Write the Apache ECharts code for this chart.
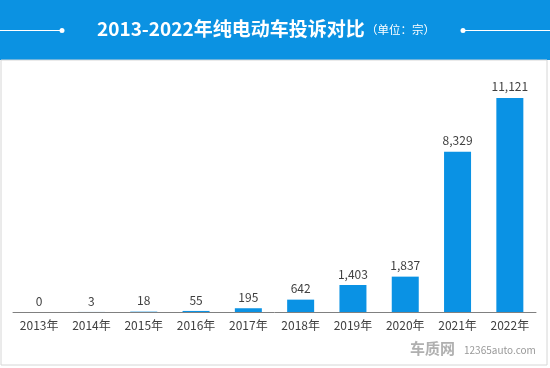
<!DOCTYPE html>
<html><head><meta charset="utf-8">
<script src="https://cdn.jsdelivr.net/npm/echarts@6/dist/echarts.min.js"></script>
<style>html,body{margin:0;padding:0;background:#fff}#c{width:550px;height:368px}</style>
</head><body><div id="c"></div>
<script>
const categories = ['2013年','2014年','2015年','2016年','2017年','2018年','2019年','2020年','2021年','2022年'];
const complaints = [0, 3, 18, 55, 195, 642, 1403, 1837, 8329, 11121];
const titleText = '2013-2022年纯电动车投诉对比';
const unitText = '（单位：宗）';

const chart = echarts.init(document.getElementById('c'), null, {renderer:'canvas'});
const font = '"Microsoft YaHei","Noto Sans CJK SC",sans-serif';
chart.setOption({
  animation:false,
  backgroundColor:'#fff',
  graphic:[
    {type:'rect', shape:{x:0,y:0,width:550,height:60}, style:{fill:'#0b92e2'}, z:0},
    {type:'rect', shape:{x:1,y:60,width:546,height:305}, style:{fill:'none',stroke:'#d6d6d6',lineWidth:1}, z:0},
    {type:'line', shape:{x1:0,y1:30.5,x2:62,y2:30.5}, style:{stroke:'#fff',lineWidth:1}},
    {type:'circle', shape:{cx:62,cy:30.5,r:2.5}, style:{fill:'#fff'}},
    {type:'line', shape:{x1:463,y1:30.5,x2:550,y2:30.5}, style:{stroke:'#fff',lineWidth:1}},
    {type:'circle', shape:{cx:463,cy:30.5,r:2.5}, style:{fill:'#fff'}},
    {type:'text', left:97, top:19, style:{text:titleText, fill:'#fff', font:'bold 19px '+font}},
    {type:'text', left:366, top:24, style:{text:unitText, fill:'#fff', font:'11.5px '+font}},
    {type:'text', left:410, top:341, style:{text:'车质网', fill:'#b0b0b0', font:'bold 15px '+font}},
    {type:'text', left:464, top:345, style:{text:'12365auto.com', fill:'#999', font:'10px '+font}}
  ],
  grid:{left:13, right:14, top:81, bottom:56, containLabel:false},
  xAxis:{
    type:'category', data:categories,
    axisLine:{lineStyle:{color:'#808080',width:1}},
    axisTick:{show:false},
    axisLabel:{color:'#404040', fontSize:12, fontFamily:font, margin:7, interval:0}
  },
  yAxis:{type:'value', min:0, max:12000, show:false, splitLine:{show:false}},
  series:[{
    type:'bar', data:complaints, barWidth:27,
    itemStyle:{color:'#0a92e4'},
    label:{show:true, position:'top', color:'#404040', fontSize:12, fontFamily:font, distance:5,
      formatter:p=>p.value.toLocaleString('en-US')}
  }]
});
</script></body></html>
